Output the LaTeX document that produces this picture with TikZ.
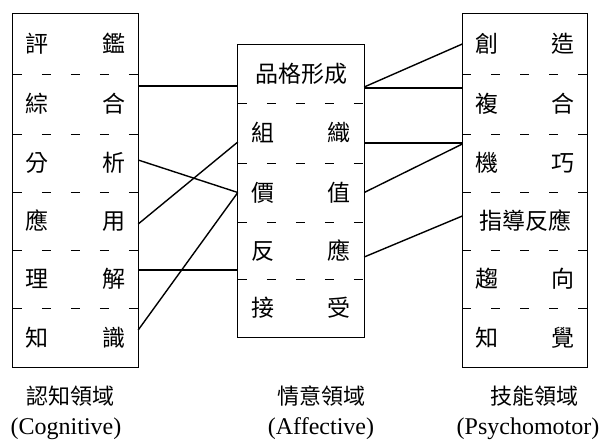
\documentclass[tikz,border=0pt]{standalone}
\usepackage{fontspec}
\setmainfont{Liberation Serif}
\newfontfamily\cjk{Noto Sans CJK TC}
\newcommand\twochar[2]{\makebox[100pt]{#1\hfill#2}}
\begin{document}
\begin{tikzpicture}[x=1pt,y=-1pt,
  cellL/.style={inner sep=0pt, minimum width=125pt, font=\cjk\fontsize{23}{25}\selectfont},
  cellM/.style={inner sep=0pt, minimum width=126pt, font=\cjk\fontsize{23}{25}\selectfont},
  frame/.style={draw=black, line width=0.9pt},
  sep/.style={draw=black, line width=0.9pt, dash pattern=on 9pt off 20pt},
  link/.style={draw=black, line width=1.4pt},
  captc/.style={inner sep=0pt, font=\cjk\fontsize{22}{24}\selectfont},
  captl/.style={inner sep=0pt, anchor=base, font=\fontsize{24}{26}\selectfont}]
\useasboundingbox (0,0) rectangle (601,440);
% left column
\node[cellL, minimum height=60pt] (L1) at (75.5,44)    {\twochar{評}{鑑}};
\node[cellL, minimum height=60pt] (L2) at (75.5,104)   {\twochar{綜}{合}};
\node[cellL, minimum height=58pt] (L3) at (75.5,163)   {\twochar{分}{析}};
\node[cellL, minimum height=58pt] (L4) at (75.5,221)   {\twochar{應}{用}};
\node[cellL, minimum height=58pt] (L5) at (75.5,279)   {\twochar{理}{解}};
\node[cellL, minimum height=59pt] (L6) at (75.5,337.5) {\twochar{知}{識}};
% middle column
\node[cellM, minimum height=58pt] (M1) at (301,74)    {品格形成};
\node[cellM, minimum height=60pt] (M2) at (301,133)   {\twochar{組}{織}};
\node[cellM, minimum height=59pt] (M3) at (301,192.5) {\twochar{價}{值}};
\node[cellM, minimum height=57pt] (M4) at (301,250.5) {\twochar{反}{應}};
\node[cellM, minimum height=58pt] (M5) at (301,308)   {\twochar{接}{受}};
% right column
\node[cellL, minimum height=60pt] (R1) at (525,44)    {\twochar{創}{造}};
\node[cellL, minimum height=60pt] (R2) at (525,104)   {\twochar{複}{合}};
\node[cellL, minimum height=58pt] (R3) at (525,163)   {\twochar{機}{巧}};
\node[cellL, minimum height=58pt] (R4) at (525,221)   {指導反應};
\node[cellL, minimum height=58pt] (R5) at (525,279)   {\twochar{趨}{向}};
\node[cellL, minimum height=59pt] (R6) at (525,337.5) {\twochar{知}{覺}};
% frames
\draw[frame] (L1.north west) rectangle (L6.south east);
\draw[frame] (M1.north west) rectangle (M5.south east);
\draw[frame] (R1.north west) rectangle (R6.south east);
% separators
\foreach \c in {L1,L2,L3,L4,L5,M1,M2,M3,M4,R1,R2,R3,R4,R5}
  \draw[sep] (\c.south west) -- (\c.south east);
% connectors left -> middle
\draw[link] ([yshift=18pt]L2.east) coordinate (a1) -- (a1 -| M1.west);
\draw[link] ([yshift=3pt]L3.east) -- (M3.west);
\draw[link] ([yshift=-3pt]L4.east) -- ([yshift=-9pt]M2.west);
\draw[link] ([yshift=9pt]L5.east) coordinate (a4) -- (a4 -| M4.west);
\draw[link] ([yshift=7.5pt]L6.east) -- (M3.west);
% connectors middle -> right
\draw[link] ([yshift=-13pt]M1.east) -- (R1.west);
\draw[link] ([yshift=-14pt]M1.east) coordinate (b2) -- (b2 -| R2.west);
\draw[link] ([yshift=-10pt]M2.east) coordinate (b3) -- (b3 -| R3.west);
\draw[link] (M3.east) -- ([yshift=19pt]R3.west);
\draw[link] ([yshift=-6.5pt]M4.east) -- ([yshift=5pt]R4.west);
% captions
\node[captc] (c1) at (70,396)  {認知領域};
\node[captc] (c2) at (321,396) {情意領域};
\node[captc] (c3) at (534,396) {技能領域};
\node[captl] (e1) at (66,434)  {(Cognitive)};
\node[captl] (e2) at (321,434) {(Affective)};
\node[captl] (e3) at (528,434) {(Psychomotor)};
\end{tikzpicture}
\end{document}
